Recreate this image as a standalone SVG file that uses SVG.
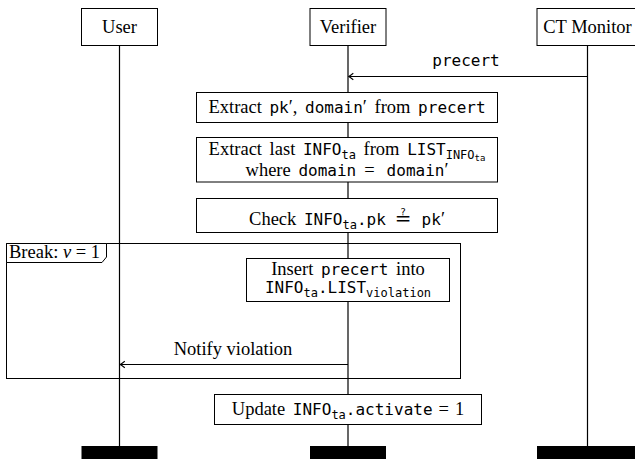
<svg xmlns="http://www.w3.org/2000/svg" width="635" height="459" viewBox="0 0 635 459">
<defs>
<style>
.s{font-family:"Liberation Serif",serif;font-size:18.5px;fill:#000}
.w{word-spacing:3px}
.m{font-family:"DejaVu Sans Mono",monospace;font-size:16px}
.sub{font-family:"DejaVu Sans Mono",monospace;font-size:12px}
.ssub{font-family:"DejaVu Sans Mono",monospace;font-size:9px}
.q{font-family:"DejaVu Sans",sans-serif;font-size:20px}
.box{fill:#fff;stroke:#000;stroke-width:1}
.life{stroke:#000;stroke-width:1.2;fill:none}
.msg{stroke:#000;stroke-width:1;fill:none}
.bar{fill:#000}
</style>
<marker id="arr" viewBox="-6 -5 8 10" refX="0" refY="0" markerWidth="8" markerHeight="10" orient="auto" markerUnits="userSpaceOnUse">
<path d="M-4.5,-3.2 Q-1.5,-1 0,0 Q-1.5,1 -4.5,3.2" fill="none" stroke="#000" stroke-width="1.1"/>
</marker>
</defs>
<rect width="635" height="459" fill="#fff"/>

<g id="user">
<line class="life" x1="119.5" y1="45.5" x2="119.5" y2="447"/>
<rect class="box" x="81.5" y="8.5" width="76" height="37"/>
<text class="s" x="119.5" y="33" text-anchor="middle">User</text>
<rect class="bar" x="81.5" y="446" width="76" height="13"/>
</g>

<g id="verifier">
<line class="life" x1="348" y1="45.5" x2="348" y2="447"/>
<rect class="box" x="310" y="8.5" width="76" height="37"/>
<text class="s" x="348" y="33" text-anchor="middle">Verifier</text>
<rect class="bar" x="310" y="446" width="76" height="13"/>
</g>

<g id="ctmonitor">
<line class="life" x1="587.5" y1="45.5" x2="587.5" y2="447"/>
<rect class="box" x="537" y="8.5" width="101" height="37"/>
<text class="s" x="587.5" y="33" text-anchor="middle">CT Monitor</text>
<rect class="bar" x="537" y="446" width="101" height="13"/>
</g>

<g id="connectors">
<line class="msg" x1="587.5" y1="76.5" x2="348.8" y2="76.5" marker-end="url(#arr)"/>
<text class="m" x="466" y="66" text-anchor="middle">precert</text>
<line class="msg" x1="348" y1="364.5" x2="120.3" y2="364.5" marker-end="url(#arr)"/>
<text class="s" x="233" y="355" text-anchor="middle">Notify violation</text>
</g>

<g id="extract-pk">
<rect class="box" x="196.5" y="92.5" width="301" height="30"/>
<text class="s w" x="347" y="113" text-anchor="middle">Extract <tspan class="m">pk</tspan>′, <tspan class="m">domain</tspan>′ from <tspan class="m">precert</tspan></text>
</g>

<g id="extract-info">
<rect class="box" x="196.5" y="137.5" width="301" height="44.5"/>
<text class="s w" x="347" y="155" text-anchor="middle">Extract last <tspan class="m">INFO</tspan><tspan class="sub" dy="3.5">ta</tspan><tspan dy="-3.5"> from </tspan><tspan class="m">LIST</tspan><tspan class="sub" dy="3.5">INFO</tspan><tspan class="ssub" dy="2.5">ta</tspan></text>
<text class="s w" x="347" y="176" text-anchor="middle">where <tspan class="m">domain</tspan><tspan dx="8">=</tspan><tspan class="m" dx="12">domain</tspan>′</text>
</g>

<g id="check">
<rect class="box" x="196.5" y="198.5" width="301" height="34"/>
<text class="s w" x="347" y="225" text-anchor="middle">Check <tspan class="m">INFO</tspan><tspan class="sub" dy="3.5">ta</tspan><tspan class="m" dy="-3.5">.pk</tspan><tspan class="q" dx="9">≟</tspan><tspan class="m" dx="10">pk</tspan>′</text>
</g>

<g id="break">
<rect x="6.5" y="243.5" width="454" height="135" fill="none" stroke="#000" stroke-width="1"/>
<path d="M6.5,243.5 H106.5 V257 L102,262.5 H6.5 Z" fill="#fff" stroke="#000" stroke-width="1"/>
<text class="s" x="9" y="258">Break: <tspan font-style="italic">v</tspan> = 1</text>
</g>

<g id="insert">
<rect class="box" x="246.5" y="258.5" width="203" height="43"/>
<text class="s w" x="348" y="275" text-anchor="middle">Insert <tspan class="m">precert</tspan> into</text>
<text class="s" x="348" y="293" text-anchor="middle"><tspan class="m">INFO</tspan><tspan class="sub" dy="3.5">ta</tspan><tspan class="m" dy="-3.5">.LIST</tspan><tspan class="sub" dy="3.5">violation</tspan></text>
</g>

<g id="update">
<rect class="box" x="214.5" y="394.5" width="267" height="30"/>
<text class="s w" x="348" y="415" text-anchor="middle">Update <tspan class="m">INFO</tspan><tspan class="sub" dy="3.5">ta</tspan><tspan class="m" dy="-3.5">.activate</tspan><tspan dx="6">=</tspan><tspan dx="6">1</tspan></text>
</g>
</svg>
